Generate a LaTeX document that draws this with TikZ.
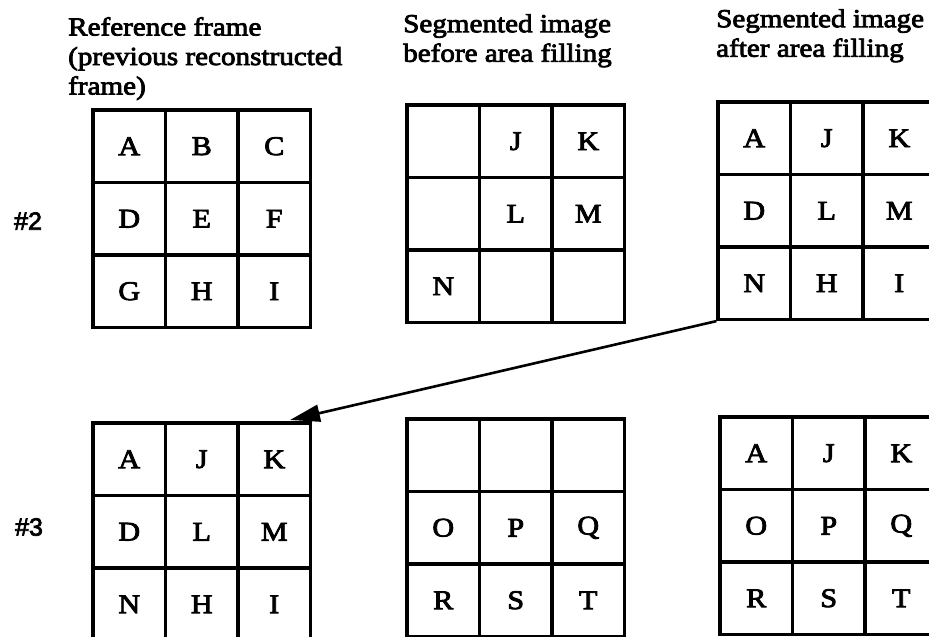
\documentclass[tikz,border=0pt]{standalone}
\usepackage{fontspec}
\setmainfont{Liberation Serif}[FakeStretch=1.12,FakeBold=3]
\newfontfamily\labelfont{Liberation Sans}[FakeBold=3]
\usetikzlibrary{arrows.meta}
\tikzset{
  cellbox/.style={draw, line width=3.2pt, minimum width=72.5pt, minimum height=72.5pt,
    inner sep=0pt, font=\fontsize{27}{27}\selectfont},
  titletext/.style={anchor=north west, align=left, inner sep=0pt,
    font=\fontsize{26}{29.5}\selectfont},
  rowlabel/.style={font=\labelfont\fontsize{25}{25}\selectfont, inner sep=0pt},
  link/.style={line width=2.6pt, -{Triangle[length=30pt,width=17pt]}}
}
\newcommand\mygrid[4]{%
  \foreach \t [count=\i from 0] in {#4} {
    \pgfmathtruncatemacro\r{div(\i,3)+1}
    \pgfmathtruncatemacro\c{mod(\i,3)+1}
    \node[cellbox] (#1-\r-\c) at ({#2+72.5*(\c-0.5)},{#3+72.5*(\r-0.5)}) {\t};
  }
}
\begin{document}
\begin{tikzpicture}[x=1pt,y=-1pt]
\useasboundingbox (0,0) rectangle (929,637);
\clip (0,0) rectangle (929,637);
% titles
\node[titletext] (t1) at (68,17) {Reference frame\\(previous reconstructed\\frame)};
\node[titletext] (t2) at (403,14) {Segmented image\\before area filling};
\node[titletext] (t3) at (716,9) {Segmented image\\after area filling};
% row labels
\node[rowlabel] (n2) at (28,221) {\#2};
\node[rowlabel] (n3) at (29,527) {\#3};
% grids
\mygrid{tl}{93}{110}{A,B,C,D,E,F,G,H,I}
\mygrid{tm}{407}{105}{{},J,K,{},L,M,N,{},{}}
\mygrid{tr}{718}{102}{A,J,K,D,L,M,N,H,I}
\mygrid{bl}{93}{423}{A,J,K,D,L,M,N,H,I}
\mygrid{bm}{407}{419}{{},{},{},O,P,Q,R,S,T}
\mygrid{br}{720}{417}{A,J,K,O,P,Q,R,S,T}
% arrow
\coordinate (tip) at (290,420);
\draw[link] (tr-3-1.south west) -- (tip);
\end{tikzpicture}
\end{document}
